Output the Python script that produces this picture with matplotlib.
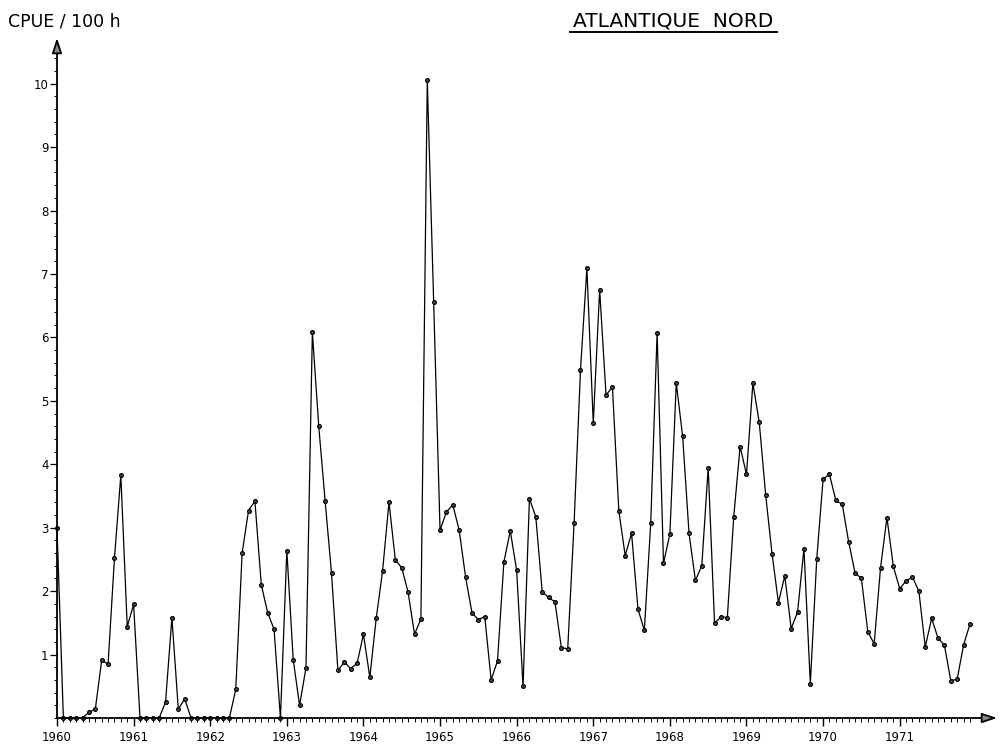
import numpy as np
import matplotlib
matplotlib.use("Agg")
import matplotlib.pyplot as plt
from matplotlib.lines import Line2D

plt.rcParams.update({
    "font.family": ["DejaVu Sans"],
})

# Monthly CPUE per 100 h, Jan..Dec for each year
cpue_1960 = [3.0, 0, 0, 0, 0, 0.09, 0.14, 0.91, 0.85, 2.52, 3.83, 1.44]
cpue_1961 = [1.79, 0, 0, 0, 0, 0.25, 1.58, 0.14, 0.30, 0, 0, 0]
cpue_1962 = [0, 0, 0, 0, 0.45, 2.60, 3.27, 3.42, 2.10, 1.66, 1.40, 0]
cpue_1963 = [2.64, 0.92, 0.20, 0.79, 6.08, 4.60, 3.42, 2.28, 0.75, 0.88, 0.78, 0.86]
cpue_1964 = [1.32, 0.64, 1.57, 2.32, 3.40, 2.49, 2.37, 1.98, 1.32, 1.56, 10.05, 6.56]
cpue_1965 = [2.96, 3.25, 3.36, 2.96, 2.22, 1.66, 1.55, 1.60, 0.60, 0.90, 2.46, 2.95]
cpue_1966 = [2.33, 0.50, 3.46, 3.17, 1.99, 1.90, 1.83, 1.11, 1.09, 3.08, 5.49, 7.09]
cpue_1967 = [4.65, 6.75, 5.09, 5.22, 3.27, 2.56, 2.91, 1.72, 1.38, 3.07, 6.07, 2.44]
cpue_1968 = [2.90, 5.28, 4.44, 2.91, 2.17, 2.40, 3.94, 1.49, 1.60, 1.58, 3.17, 4.28]
cpue_1969 = [3.84, 5.28, 4.66, 3.52, 2.59, 1.82, 2.24, 1.41, 1.67, 2.67, 0.54, 2.50]
cpue_1970 = [3.77, 3.84, 3.43, 3.37, 2.78, 2.29, 2.20, 1.36, 1.17, 2.37, 3.16, 2.39]
cpue_1971 = [2.04, 2.16, 2.22, 2.00, 1.12, 1.57, 1.26, 1.15, 0.59, 0.61, 1.15, 1.48]

years = list(range(1960, 1972))
year_labels = [str(y) for y in years]
y_ticks = list(range(1, 11))

series = (cpue_1960 + cpue_1961 + cpue_1962 + cpue_1963 + cpue_1964 + cpue_1965
          + cpue_1966 + cpue_1967 + cpue_1968 + cpue_1969 + cpue_1970 + cpue_1971)
months = years[0] + np.arange(len(series)) / 12.0

fig = plt.figure(figsize=(10, 7.52), dpi=100)
fig.patch.set_facecolor("white")
ax = fig.add_axes([0.057, 0.0452, 0.940, 0.9043])

ax.plot(months, series, color="black", lw=0.9, marker="o", ms=2.8,
        mfc="#444444", mec="black", mew=0.8, zorder=3, clip_on=False)

ax.set_xlim(1960, 1972.27)
ax.set_ylim(0, 10.72)

for s in ax.spines.values():
    s.set_visible(False)

# axes drawn as arrows
arrow_kw = dict(arrowstyle="-|>,head_length=0.9,head_width=0.3", lw=1.3,
                color="black", fc="#888888", shrinkA=0, shrinkB=0)
ax.annotate("", xy=(1.0, 0), xytext=(0, 0), xycoords="axes fraction",
            arrowprops=arrow_kw)
ax.annotate("", xy=(0, 1.0), xytext=(0, 0), xycoords="axes fraction",
            arrowprops=arrow_kw)

ax.set_yticks(y_ticks)
ax.set_yticklabels([str(v) for v in y_ticks])
ax.set_yticks(np.arange(0, 10.6, 0.2), minor=True)
ax.tick_params(axis="y", which="major", length=5, width=0.9, labelsize=8.5, pad=1)
ax.tick_params(axis="y", which="minor", length=2.5, width=0.7)

ax.set_xticks(years)
ax.set_xticklabels(year_labels)
ax.set_xticks(years[0] + np.arange(0, 144) / 12.0, minor=True)
ax.tick_params(axis="x", which="major", length=6, width=1.0, labelsize=8.5, pad=3)
ax.tick_params(axis="x", which="minor", length=3, width=0.7)

fig.text(0.008, 0.972, "CPUE / 100 h", fontsize=12.5, ha="left", va="center")
fig.text(0.6735, 0.972, "ATLANTIQUE  NORD", fontsize=14.5, ha="center", va="center")
fig.add_artist(Line2D([0.570, 0.777], [0.957, 0.957], transform=fig.transFigure,
                      color="black", lw=1.4))

fig.savefig("out.png", dpi=100, facecolor="white")
